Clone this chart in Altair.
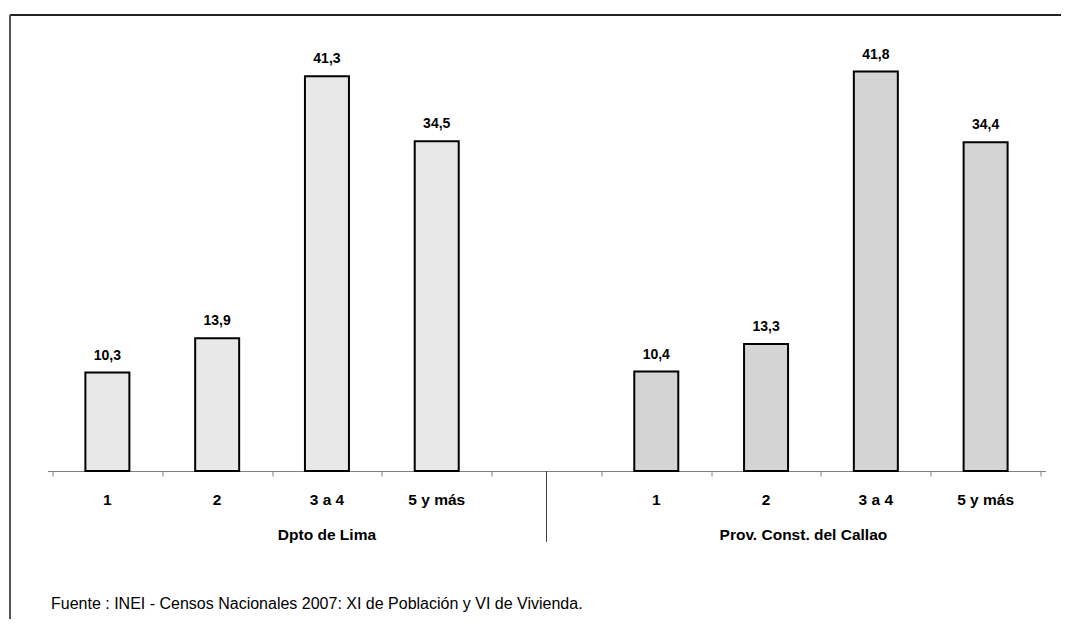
import altair as alt
import pandas as pd

categories = ["1", "2", "3 a 4", "5 y más"]
groups = ["Dpto de Lima", "Prov. Const. del  Callao"]
lima_values = [10.3, 13.9, 41.3, 34.5]
callao_values = [10.4, 13.3, 41.8, 34.4]
source_text = "Fuente :  INEI - Censos Nacionales 2007: XI de Población y VI de Vivienda."

FONT = "Liberation Sans, Arial, sans-serif"

# slot index on the category axis: Lima 0..3, empty slot 4, Callao 5..8
rows = []
for i, (c, v) in enumerate(zip(categories, lima_values)):
    rows.append({"group": groups[0], "cat": c, "pos": i + 0.5, "value": v,
                 "label": f"{v:.1f}".replace(".", ",")})
for i, (c, v) in enumerate(zip(categories, callao_values)):
    rows.append({"group": groups[1], "cat": c, "pos": 5 + i + 0.5, "value": v,
                 "label": f"{v:.1f}".replace(".", ",")})
df = pd.DataFrame(rows)

GROUP_ANCHORS = [2.5, 6.84]
gdf = pd.DataFrame({"group": groups, "pos": GROUP_ANCHORS})
sdf = pd.DataFrame({"text": [source_text]})

W, H = 998, 430

xscale = alt.Scale(domain=[0, 9], nice=False, zero=False)
yscale = alt.Scale(domain=[0, 45], nice=False)

base = alt.Chart(df)

bars = base.mark_bar(size=44, stroke="black", strokeWidth=2).encode(
    x=alt.X("pos:Q", scale=xscale,
            axis=alt.Axis(values=list(range(10)), labels=False, title=None,
                          tickSize=5, domainColor="#808080", tickColor="#808080",
                          domainWidth=1, tickWidth=1, grid=False)),
    y=alt.Y("value:Q", scale=yscale, axis=None),
    color=alt.Color("group:N", scale=alt.Scale(domain=groups, range=["#e8e8e8", "#d4d4d4"]),
                    legend=None),
)

values_txt = base.mark_text(baseline="alphabetic", dy=-13, font=FONT, fontSize=14,
                            fontWeight="bold", color="black").encode(
    x="pos:Q", y="value:Q", text="label:N")

cat_txt = base.mark_text(baseline="alphabetic", font=FONT, fontSize=15.5,
                         fontWeight="bold", color="black").encode(
    x="pos:Q", y=alt.value(464), text="cat:N")

grp_txt = alt.Chart(gdf).mark_text(baseline="alphabetic", font=FONT, fontSize=15.5,
                                   fontWeight="bold", color="black").encode(
    x="pos:Q", y=alt.value(499), text="group:N")

sep = alt.Chart(gdf).mark_rule(color="#404040", strokeWidth=1).encode(
    x=alt.datum(4.5), y=alt.value(H), y2=alt.value(501))

src = alt.Chart(sdf).mark_text(align="left", baseline="alphabetic", font=FONT,
                               fontSize=16, color="black").encode(
    x=alt.value(3.5), y=alt.value(568), text="text:N")

frame_top = alt.Chart(sdf).mark_rule(color="#222222", strokeWidth=2).encode(
    x=alt.value(-37.5), x2=alt.value(1040), y=alt.value(-26))
frame_left = alt.Chart(sdf).mark_rule(color="#555555", strokeWidth=2).encode(
    x=alt.value(-37.5), y=alt.value(-26), y2=alt.value(600))

chart = alt.layer(frame_top, frame_left, bars, values_txt, cat_txt, grp_txt, sep, src).properties(
    width=W, height=H,
    autosize=alt.AutoSizeParams(type="none"),
    padding={"left": 39.5, "top": 33, "right": 15.5, "bottom": 148},
).configure_view(stroke=None)

chart.save("out.html", embed_options={"renderer": "svg", "actions": False})
